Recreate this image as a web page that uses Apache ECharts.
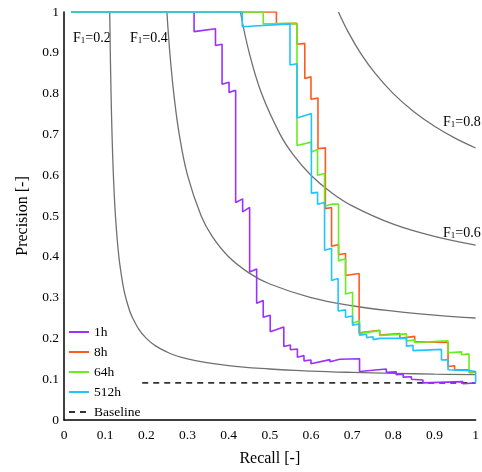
<!DOCTYPE html>
<html>
<head>
<meta charset="utf-8">
<script src="https://cdn.jsdelivr.net/npm/echarts@6/dist/echarts.min.js"></script>
<style>
  html, body { margin: 0; padding: 0; background: #fff; }
  #chart { width: 482px; height: 472px; }
</style>
</head>
<body>
<div id="chart"></div>
<script>
// recall / precision pairs
var pr1h = [
  [0.017, 1.0], [0.316, 1.0], [0.316, 0.952], [0.368, 0.959], [0.368, 0.918], [0.384, 0.921],
  [0.384, 0.823], [0.401, 0.828], [0.401, 0.803], [0.417, 0.808], [0.417, 0.533], [0.434, 0.542],
  [0.434, 0.510], [0.451, 0.521], [0.451, 0.363], [0.468, 0.370], [0.468, 0.286], [0.484, 0.293],
  [0.484, 0.252], [0.501, 0.257], [0.501, 0.216], [0.534, 0.228], [0.534, 0.180], [0.550, 0.184],
  [0.550, 0.172], [0.567, 0.174], [0.567, 0.154], [0.583, 0.158], [0.583, 0.145], [0.600, 0.147],
  [0.600, 0.138], [0.646, 0.148], [0.646, 0.143], [0.670, 0.149], [0.670, 0.145], [0.718, 0.150],
  [0.718, 0.119], [0.783, 0.125], [0.783, 0.117], [0.807, 0.118], [0.807, 0.111], [0.824, 0.112],
  [0.824, 0.105], [0.844, 0.106], [0.844, 0.100], [0.872, 0.098], [0.872, 0.091], [0.969, 0.094],
  [0.969, 0.089], [1.0, 0.091]
];
var pr8h = [
  [0.017, 1.0], [0.516, 1.0], [0.516, 0.971], [0.566, 0.972], [0.566, 0.921], [0.585, 0.923],
  [0.585, 0.837], [0.600, 0.841], [0.600, 0.786], [0.617, 0.789], [0.617, 0.665], [0.635, 0.667],
  [0.635, 0.518], [0.650, 0.521], [0.650, 0.426], [0.667, 0.430], [0.667, 0.405], [0.684, 0.408],
  [0.684, 0.354], [0.717, 0.359], [0.717, 0.214], [0.767, 0.220], [0.767, 0.208], [0.816, 0.212],
  [0.816, 0.200], [0.852, 0.205], [0.852, 0.192], [0.933, 0.190], [0.933, 0.131], [0.949, 0.133],
  [0.949, 0.123], [0.985, 0.123], [0.985, 0.116], [1.0, 0.117]
];
var pr64h = [
  [0.017, 1.0], [0.484, 1.0], [0.484, 0.971], [0.566, 0.972], [0.566, 0.673], [0.601, 0.681],
  [0.601, 0.657], [0.616, 0.663], [0.616, 0.600], [0.633, 0.604], [0.633, 0.524], [0.650, 0.529],
  [0.667, 0.529], [0.667, 0.390], [0.684, 0.395], [0.684, 0.309], [0.701, 0.313], [0.701, 0.237],
  [0.718, 0.243], [0.718, 0.212], [0.767, 0.219], [0.767, 0.207], [0.832, 0.211], [0.832, 0.194],
  [0.852, 0.196], [0.852, 0.190], [0.933, 0.194], [0.933, 0.165], [0.966, 0.167], [0.966, 0.160],
  [0.984, 0.162], [0.984, 0.117], [1.0, 0.119]
];
var pr512h = [
  [0.017, 1.0], [0.433, 1.0], [0.433, 0.964], [0.549, 0.971], [0.549, 0.870], [0.566, 0.873],
  [0.566, 0.740], [0.601, 0.751], [0.601, 0.556], [0.616, 0.558], [0.616, 0.529], [0.633, 0.533],
  [0.633, 0.416], [0.650, 0.421], [0.650, 0.342], [0.666, 0.347], [0.666, 0.267], [0.684, 0.270],
  [0.684, 0.252], [0.701, 0.255], [0.701, 0.232], [0.718, 0.236], [0.718, 0.208], [0.735, 0.210],
  [0.735, 0.202], [0.751, 0.204], [0.751, 0.197], [0.767, 0.200], [0.767, 0.196], [0.832, 0.200],
  [0.832, 0.181], [0.848, 0.183], [0.848, 0.170], [0.917, 0.173], [0.917, 0.147], [0.933, 0.148],
  [0.933, 0.123], [0.985, 0.121], [1.0, 0.119], [1.0, 0.091]
];
var baseline = [[0.19, 0.091], [1.0, 0.091]];

// iso-F1 contours
var isoF02 = [
  [0.1111, 1], [0.1125, 0.9], [0.1143, 0.8], [0.1167, 0.7], [0.12, 0.6], [0.125, 0.5],
  [0.1333, 0.4], [0.1429, 0.333], [0.15, 0.3], [0.1667, 0.25], [0.2, 0.2], [0.25, 0.1667],
  [0.3, 0.15], [0.4, 0.1333], [0.5, 0.125], [0.6, 0.12], [0.7, 0.1167], [0.8, 0.1143],
  [0.9, 0.1125], [1, 0.1111]
];
var isoF04 = [
  [0.25, 1], [0.2571, 0.9], [0.2667, 0.8], [0.28, 0.7], [0.3, 0.6], [0.3333, 0.5], [0.36, 0.45],
  [0.4, 0.4], [0.45, 0.36], [0.5, 0.3333], [0.6, 0.3], [0.7, 0.28], [0.8, 0.2667], [0.9, 0.2571],
  [1, 0.25]
];
var isoF06 = [
  [0.4286, 1], [0.45, 0.9], [0.48, 0.8], [0.525, 0.7], [0.5571, 0.65], [0.6, 0.6], [0.65, 0.5571],
  [0.7, 0.525], [0.8, 0.48], [0.9, 0.45], [1, 0.4286]
];
var isoF08 = [
  [0.6667, 1], [0.6909, 0.95], [0.72, 0.9], [0.7556, 0.85], [0.8, 0.8], [0.85, 0.7556],
  [0.9, 0.72], [0.95, 0.6909], [1, 0.6667]
];

var serif = 'Liberation Serif, DejaVu Serif, serif';
var myChart = echarts.init(document.getElementById('chart'));

function isoSeries(data) {
  return {
    type: 'line', data: data, smooth: 0.4, symbol: 'none', silent: true,
    lineStyle: { color: '#707070', width: 1.3 }, z: 1
  };
}
function prSeries(name, data, color) {
  return {
    name: name, type: 'line', data: data, symbol: 'none',
    lineStyle: { color: color, width: 1.6 }, itemStyle: { color: color }, z: 3
  };
}
function f1Label(x, y, val) {
  return {
    type: 'text', left: x, top: y,
    style: {
      text: '{a|F}{b|1}{a|=' + val + '}',
      rich: {
        a: { fontFamily: serif, fontSize: 14, color: '#8c8c8c', lineHeight: 18, verticalAlign: 'bottom' },
        b: { fontFamily: serif, fontSize: 9, color: '#8c8c8c', lineHeight: 18, verticalAlign: 'bottom', padding: [4, 0, 0, 0] }
      }
    }
  };
}

var option = {
  animation: false,
  grid: { left: 64, top: 12, width: 412, height: 412 },
  legend: {
    data: ['1h', '8h', '64h', '512h', 'Baseline'],
    orient: 'vertical', left: 68, top: 325, padding: 0,
    itemWidth: 20, itemHeight: 14, itemGap: 6,
    itemStyle: { opacity: 0 },
    textStyle: { fontFamily: serif, fontSize: 13.5, color: '#000' }
  },
  xAxis: {
    type: 'value', min: 0, max: 1, interval: 0.1,
    name: 'Recall [-]', nameLocation: 'middle', nameGap: 31,
    nameTextStyle: { fontFamily: serif, fontSize: 16, color: '#000' },
    axisLine: { lineStyle: { color: '#000', width: 1.5 } },
    axisTick: { show: false },
    splitLine: { show: false },
    axisLabel: { fontFamily: serif, fontSize: 13.5, color: '#000', margin: 8 }
  },
  yAxis: {
    type: 'value', min: 0, max: 1, interval: 0.1,
    name: 'Precision [-]', nameLocation: 'middle', nameGap: 23,
    nameTextStyle: { fontFamily: serif, fontSize: 16, color: '#000' },
    axisLine: { show: true, lineStyle: { color: '#000', width: 1.5 } },
    axisTick: { show: false },
    splitLine: { show: false },
    axisLabel: { fontFamily: serif, fontSize: 13.5, color: '#000', margin: 5 }
  },
  graphic: [
    f1Label(73, 31, '0.2'),
    f1Label(130, 31, '0.4'),
    f1Label(443, 115, '0.8'),
    f1Label(443, 226, '0.6')
  ],
  series: [
    isoSeries(isoF02), isoSeries(isoF04), isoSeries(isoF06), isoSeries(isoF08),
    prSeries('1h', pr1h, '#9b30ff'),
    prSeries('8h', pr8h, '#ff5a1e'),
    prSeries('64h', pr64h, '#66ee22'),
    prSeries('512h', pr512h, '#22c4ff'),
    {
      name: 'Baseline', type: 'line', data: baseline, symbol: 'none',
      lineStyle: { color: '#333', width: 1.6, type: [6, 5] }, itemStyle: { color: '#333' }, z: 2
    }
  ]
};

myChart.setOption(option);
</script>
</body>
</html>
